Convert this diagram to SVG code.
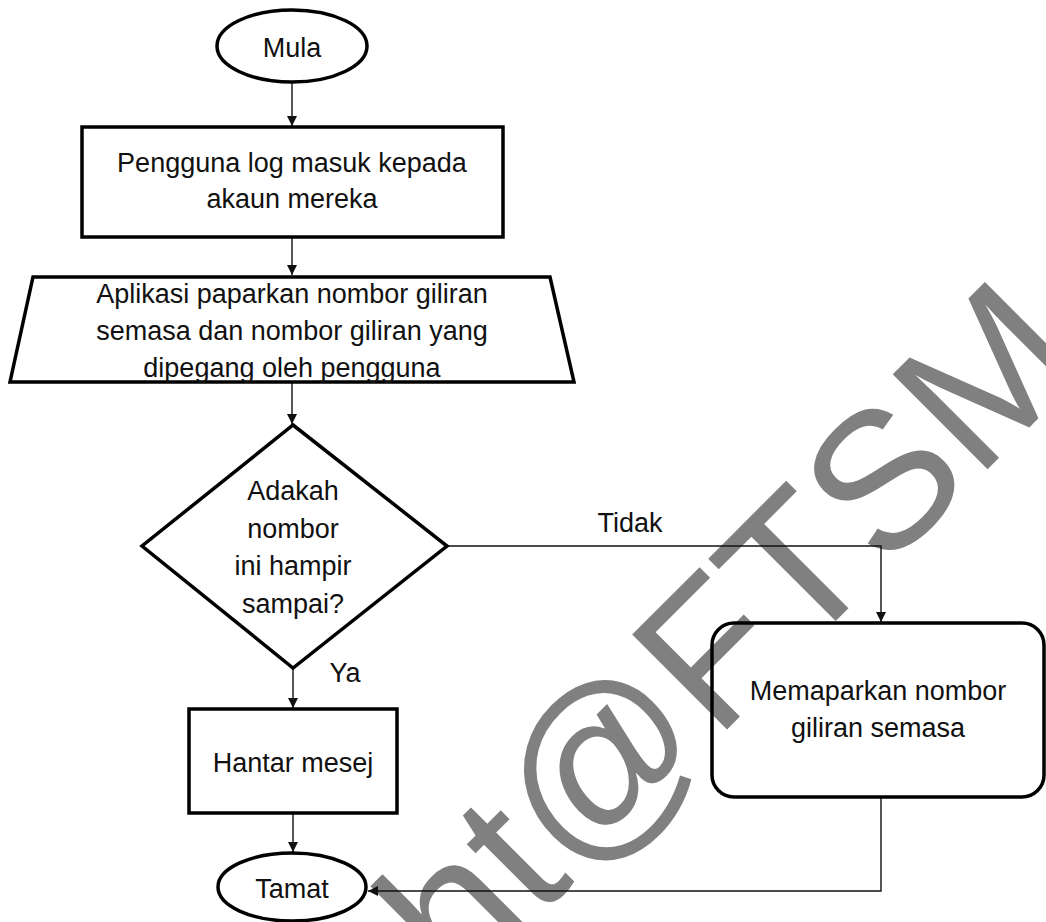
<svg xmlns="http://www.w3.org/2000/svg" width="1046" height="922" viewBox="0 0 1046 922">
<style>
.node{fill:none;stroke:#000;stroke-width:3.5}
.t{font-family:"Liberation Sans",Arial,sans-serif;font-size:27px;fill:#111;text-anchor:middle}
.c{fill:none;stroke:#111;stroke-width:1.4}
.wm{font-family:"Liberation Sans",Arial,sans-serif;font-size:195px;fill:#808080;text-anchor:end}
</style>
<defs>
<marker id="ah" markerUnits="userSpaceOnUse" markerWidth="10" markerHeight="10" refX="10" refY="5" orient="auto">
<path d="M0,0 L10,5 L0,10 z" fill="#111"/>
</marker>
</defs>
<rect width="1046" height="922" fill="#fff"/>
<text class="wm" x="513" y="1030" transform="rotate(-45)">Copyright@FTSM</text>
<g id="connectors">
<path class="c" d="M292,83 L292,126" marker-end="url(#ah)"/>
<path class="c" d="M292,237 L292,275" marker-end="url(#ah)"/>
<path class="c" d="M292,382 L292,424" marker-end="url(#ah)"/>
<path class="c" d="M293,668 L293,708" marker-end="url(#ah)"/>
<path class="c" d="M293,813 L293,852" marker-end="url(#ah)"/>
<path class="c" d="M447,546 L881,546 L881,622" marker-end="url(#ah)"/>
<path class="c" d="M881,797 L881,891 L368,891" marker-end="url(#ah)"/>
<text class="t" x="630" y="532">Tidak</text>
<text class="t" x="345" y="682">Ya</text>
</g>
<g id="mula">
<ellipse class="node" cx="292" cy="46" rx="75" ry="36"/>
<text class="t" x="292" y="57">Mula</text>
</g>
<g id="login">
<rect class="node" x="82" y="127" width="421" height="110"/>
<text class="t" x="292" y="172">Pengguna log masuk kepada</text>
<text class="t" x="292" y="208">akaun mereka</text>
</g>
<g id="papar">
<polygon class="node" points="33,277 550,277 574,382 10,382"/>
<text class="t" x="292" y="303">Aplikasi paparkan nombor giliran</text>
<text class="t" x="292" y="340">semasa dan nombor giliran yang</text>
<text class="t" x="292" y="377">dipegang oleh pengguna</text>
</g>
<g id="decision">
<polygon class="node" points="293,425 447,546 293,668 142,546"/>
<text class="t" x="293" y="500">Adakah</text>
<text class="t" x="293" y="538">nombor</text>
<text class="t" x="293" y="575">ini hampir</text>
<text class="t" x="293" y="613">sampai?</text>
</g>
<g id="hantar">
<rect class="node" x="189" y="709" width="208" height="104"/>
<text class="t" x="293" y="772">Hantar mesej</text>
</g>
<g id="memaparkan">
<rect class="node" x="712" y="623" width="332" height="174" rx="22" ry="22"/>
<text class="t" x="878" y="700">Memaparkan nombor</text>
<text class="t" x="878" y="737">giliran semasa</text>
</g>
<g id="tamat">
<ellipse class="node" cx="292" cy="887" rx="74" ry="34"/>
<text class="t" x="292" y="898">Tamat</text>
</g>
</svg>
